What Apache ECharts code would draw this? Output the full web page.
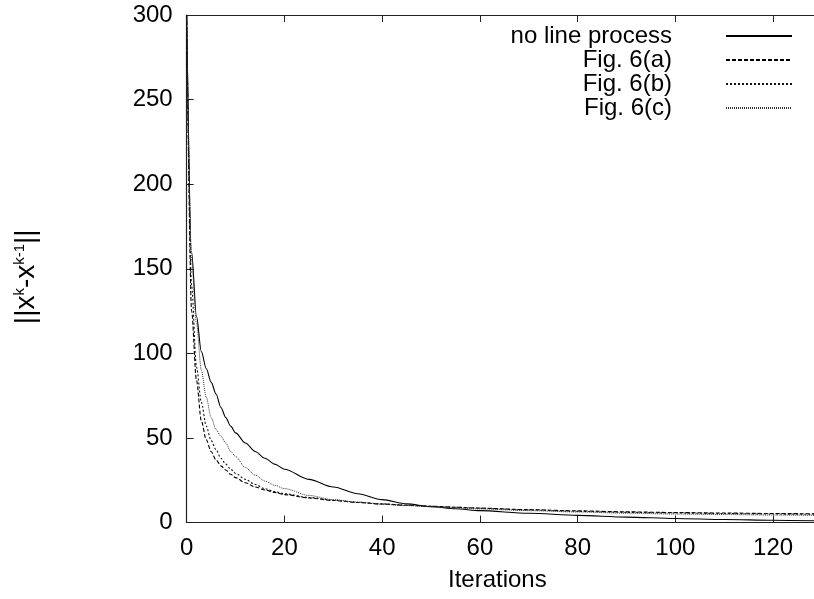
<!DOCTYPE html>
<html>
<head>
<meta charset="utf-8">
<script src="https://cdn.jsdelivr.net/npm/echarts@6/dist/echarts.min.js"></script>
<style>
html,body{margin:0;padding:0;background:#fff;}
#chart{width:814px;height:599px;}
</style>
</head>
<body>
<div id="chart"></div>
<script>
var iterations = [0,1,2,3,4,5,6,7,8,9,10,12,14,16,18,20,25,30,35,40,45,50,55,60,70,80,90,100,110,120,130];
var noLineProcess = [300,160,122,101,91,83,76,68,62,57,53,47,42,38,34.5,31.5,25.5,21,17,13.5,11,9.4,8.1,7,5.5,4.2,3.2,2.4,1.8,1.3,0.9];
var fig6a = [300,125,84,60,49,42,37,33.5,31,28.5,26.5,23.5,21,19.3,17.8,16.5,14.5,13,11.8,10.9,10.2,9.6,9.0,8.5,7.6,6.9,6.3,5.9,5.6,5.3,5.1];
var fig6b = [300,140,92,71,57,48.5,43,38,34.5,31.5,29,25.5,22.5,20,18.3,17,14.8,13.2,12,11,10.2,9.6,9.0,8.4,7.4,6.6,6.0,5.6,5.3,5.0,4.8];
var fig6c = [300,155,118,90,74,62,55,51,47,42,39,32.5,28,24.5,22,20,16,13.5,12,10.8,10,9.3,8.6,8,7,6.2,5.5,5.0,4.7,4.4,4.2];
var seriesNames = ['no line process','Fig. 6(a)','Fig. 6(b)','Fig. 6(c)'];
var xTicks = {min:0, max:130, interval:20};
var yTicks = {min:0, max:300, interval:50};

function pairs(ys){ return iterations.map(function(x,i){ return [x, ys[i]]; }); }

var FONT = '"Liberation Sans", Arial, Helvetica, sans-serif';
var AX = '#222';
var chart = echarts.init(document.getElementById('chart'), null, {renderer:'canvas'});

function mkSeries(name, ys, type, width, color){
  return {
    name: name, type: 'line', data: pairs(ys), xAxisIndex:0, yAxisIndex:0,
    symbol: 'none', showSymbol: false, smooth: 0.3, smoothMonotone: 'x', clip: true,
    lineStyle: {color: color, width: width, type: type},
    itemStyle: {color: color},
    emphasis: {disabled: true}, animation: false
  };
}

function tick(){ return {show:true, inside:true, length:7, lineStyle:{color:AX, width:1}}; }
function axLine(){ return {show:true, onZero:false, lineStyle:{color:AX, width:1.2}}; }

chart.setOption({
  animation: false,
  backgroundColor: '#fff',
  textStyle: {fontFamily: FONT},
  grid: {left: 186.7, right: -8, top: 15, bottom: 76.5, containLabel: false, outerBoundsMode: 'none'},
  legend: {
    orient: 'vertical', right: 16, top: 19, align: 'right',
    itemWidth: 66, itemHeight: 22, itemGap: 0, selectedMode: false,
    itemStyle: {opacity: 0, borderWidth: 0},
    data: seriesNames,
    formatter: '{a|{name}}',
    textStyle: {
      fontFamily: FONT, fontSize: 24, color: '#000', lineHeight: 22,
      rich: {a: {fontFamily: FONT, fontSize: 24, color:'#000', width: 200, align: 'right', lineHeight: 22, padding: [0, 49, 0, 0]}}
    }
  },
  xAxis: [{
    type: 'value', min: xTicks.min, max: xTicks.max, interval: xTicks.interval,
    name: 'Iterations', nameLocation: 'middle', nameGap: 46,
    nameTextStyle: {fontFamily: FONT, fontSize: 24, color:'#000', padding:[0,14,0,0]},
    axisLine: axLine(), axisTick: tick(), splitLine: {show:false},
    axisLabel: {fontFamily: FONT, fontSize: 24, color:'#000', margin: 14, showMaxLabel: false}
  },{
    type: 'value', position: 'top', min: xTicks.min, max: xTicks.max, interval: xTicks.interval,
    axisLine: axLine(), axisTick: tick(), splitLine: {show:false}, axisLabel: {show:false}
  }],
  yAxis: [{
    type: 'value', min: yTicks.min, max: yTicks.max, interval: yTicks.interval,
    name: '||x{s|k}-x{s|k-1}||', nameLocation: 'middle', nameGap: 146, nameRotate: 90,
    nameTextStyle: {fontFamily: FONT, fontSize: 28, color:'#000', padding:[0,16,0,0],
      rich: {s: {fontFamily: FONT, fontSize: 15, color:'#000', verticalAlign:'top', padding:[0,0,12,0]}}},
    axisLine: axLine(), axisTick: tick(), splitLine: {show:false},
    axisLabel: {fontFamily: FONT, fontSize: 24, color:'#000', margin: 14}
  },{
    type: 'value', position: 'right', min: yTicks.min, max: yTicks.max, interval: yTicks.interval,
    axisLine: axLine(), axisTick: tick(), splitLine: {show:false}, axisLabel: {show:false}
  }],
  series: [
    mkSeries(seriesNames[0], noLineProcess, 'solid', 1.1, '#000'),
    mkSeries(seriesNames[1], fig6a, [4,2], 1.1, '#000'),
    mkSeries(seriesNames[2], fig6b, [2,2], 1.1, '#111'),
    mkSeries(seriesNames[3], fig6c, [1,1], 1, '#333')
  ]
});
</script>
</body>
</html>
